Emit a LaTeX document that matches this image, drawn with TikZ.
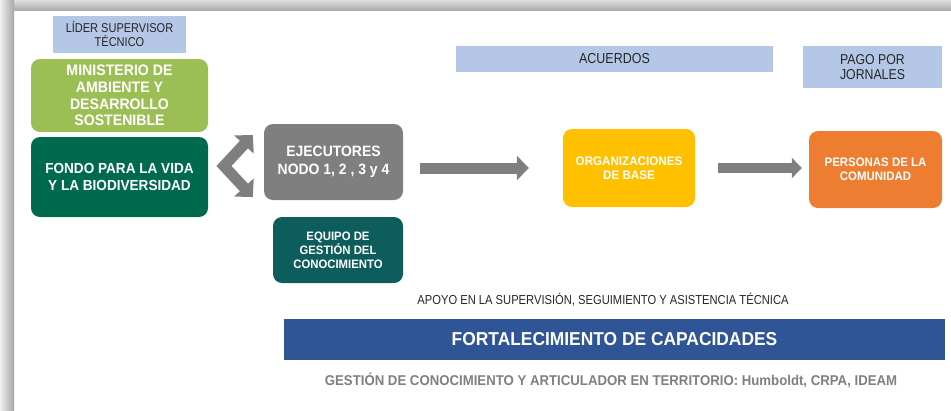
\documentclass[tikz,border=0pt]{standalone}
\usepackage{fontspec}
\setmainfont{Liberation Sans}[FakeStretch=0.86, BoldFeatures={FakeStretch=0.93}]
\usetikzlibrary{arrows.meta,calc}

\definecolor{tagblue}{HTML}{B4C7E7}
\definecolor{minigreen}{HTML}{9BBF55}
\definecolor{fondogreen}{HTML}{006A4E}
\definecolor{ejecgray}{HTML}{7F7F7F}
\definecolor{equipoteal}{HTML}{0E5D5D}
\definecolor{orgyellow}{HTML}{FFC000}
\definecolor{persorange}{HTML}{ED7D31}
\definecolor{barblue}{HTML}{2F5597}

\begin{document}
\begin{tikzpicture}[x=1pt, y=-1pt,
    tagbox/.style={fill=tagblue, inner sep=0pt, align=center, text=black!85},
    orgbox/.style={rounded corners=9pt, inner sep=0pt, align=center, text=white},
    fatarrow/.style={draw=ejecgray, line width=11pt, -{Triangle[length=12pt, width=24pt]}}]
    \useasboundingbox (0,0) rectangle (951,410);

    % Sombra del marco
    \shade[top color=gray!25, bottom color=gray!65] (0,0) rectangle (951,10);
    \shade[left color=gray!12, right color=gray!70] (0,0) rectangle (14,410);

    % Etiquetas superiores
    \node[tagbox, minimum width=133pt, minimum height=37pt,
          font=\fontsize{12.8}{14}\selectfont] (lider) at (119.5,34.5) {LÍDER SUPERVISOR\\TÉCNICO};
    \node[tagbox, minimum width=317pt, minimum height=26pt,
          font=\fontsize{14.5}{16}\selectfont] (acuerdos) at (614.5,59) {ACUERDOS};
    \node[tagbox, minimum width=139pt, minimum height=42pt,
          font=\fontsize{14.3}{15}\selectfont] (pago) at (872.5,67) {PAGO POR\\JORNALES};

    % Actores
    \node[orgbox, fill=minigreen, minimum width=177pt, minimum height=73pt,
          font=\bfseries\fontsize{15.2}{16.7}\selectfont] (minis) at (119.5,95.5)
          {MINISTERIO DE\\AMBIENTE Y\\DESARROLLO\\SOSTENIBLE};
    \node[orgbox, fill=fondogreen, minimum width=177pt, minimum height=80pt,
          font=\bfseries\fontsize{14.6}{16.7}\selectfont] (fondo) at (119.5,177)
          {FONDO PARA LA VIDA\\Y LA BIODIVERSIDAD};
    \node[orgbox, fill=ejecgray, minimum width=139pt, minimum height=76pt,
          font=\bfseries\fontsize{15}{18}\selectfont] (ejec) at (333.5,162)
          {EJECUTORES\\NODO 1, 2 , 3 y 4};
    \node[orgbox, fill=equipoteal, minimum width=130pt, minimum height=66pt,
          font=\bfseries\fontsize{12.2}{14}\selectfont] (equipo) at (338,250)
          {EQUIPO DE\\GESTIÓN DEL\\CONOCIMIENTO};
    \node[orgbox, fill=orgyellow, minimum width=132pt, minimum height=78pt,
          font=\bfseries\fontsize{12.5}{13.5}\selectfont] (org) at (629,168)
          {ORGANIZACIONES\\DE BASE};
    \node[orgbox, fill=persorange, minimum width=133pt, minimum height=77pt,
          font=\bfseries\fontsize{12.3}{14.3}\selectfont] (pers) at (875.5,169.5)
          {PERSONAS DE LA\\COMUNIDAD};

    % Flechas
    \coordinate (bend) at (224,166);
    \draw[draw=ejecgray, line width=11pt,
          {Triangle[length=13pt, width=26pt]}-{Triangle[length=13pt, width=26pt]}]
          ($(ejec.west)+(-11,-27)$) -- (bend) -- ($(ejec.west)+(-11,35)$);
    \draw[fatarrow] ($(ejec.east |- org.west)+(17,0)$) -- ($(org.west)+(-34,0)$);
    \draw[fatarrow, line width=10pt, -{Triangle[length=10pt, width=20pt]}]
          ($(org.east)+(23,0)$) -- ($(pers.west |- org.east)+(-7,0)$);

    % Franja inferior
    \node[font=\fontsize{13}{15}\selectfont, text=black!85] (apoyo) at (603,300)
          {APOYO EN LA SUPERVISIÓN, SEGUIMIENTO Y ASISTENCIA TÉCNICA};
    \node[fill=barblue, text=white, minimum width=661pt, minimum height=41pt, inner sep=0pt,
          font=\bfseries\fontsize{18.7}{20}\selectfont] (fort) at (614.5,339.5)
          {FORTALECIMIENTO DE CAPACIDADES};
    \node[font=\bfseries\fontsize{14.2}{16}\selectfont, text=ejecgray] (gestion) at (611,380)
          {GESTIÓN DE CONOCIMIENTO Y ARTICULADOR EN TERRITORIO: Humboldt, CRPA, IDEAM};
\end{tikzpicture}
\end{document}
